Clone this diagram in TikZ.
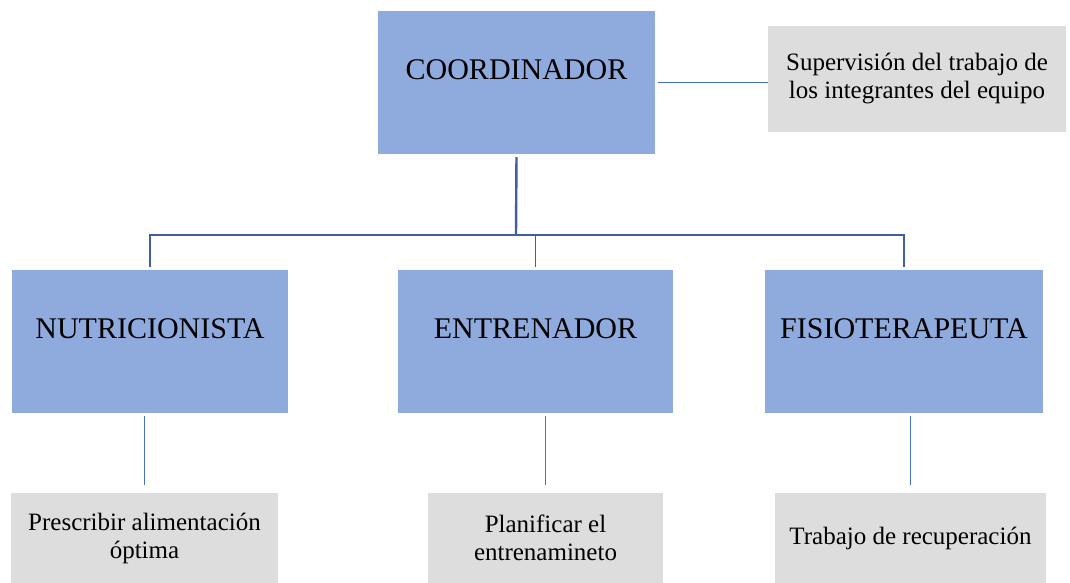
\documentclass[tikz,border=0pt]{standalone}
\usepackage{fontspec}
\setmainfont{Liberation Serif}
\definecolor{roleblue}{RGB}{143,170,220}
\definecolor{taskgray}{RGB}{221,221,221}
\definecolor{linkblue}{RGB}{68,114,196}
\definecolor{busblue}{RGB}{63,95,160}
\tikzset{
    rolebox/.style={rectangle, fill=roleblue, inner sep=0pt, font=\fontsize{30}{30}\selectfont,
        text height=20pt, text depth=26pt, minimum height=143pt},
    taskbox/.style={rectangle, fill=taskgray, inner sep=0pt, align=center,
        font=\fontsize{25}{28}\selectfont},
    link/.style={draw=linkblue, line width=1.2pt},
    bus/.style={draw=busblue, line width=1.8pt}
}
\begin{document}
\begin{tikzpicture}[x=1pt,y=-1pt]
        \useasboundingbox (0,0) rectangle (1070,583);
        \node[rolebox, minimum width=277pt] (coord) at (516.5,82.5) {COORDINADOR};
        \node[taskbox, minimum width=298pt, minimum height=106pt] (sup) at (917,79)
            {Supervisión del trabajo de\\los integrantes del equipo};
        \node[rolebox, minimum width=276pt] (nutri) at (150,341.5) {NUTRICIONISTA};
        \node[rolebox, minimum width=275pt] (entren) at (535.5,341.5) {ENTRENADOR};
        \node[rolebox, minimum width=278pt] (fisio) at (904,341.5) {FISIOTERAPEUTA};
        \node[taskbox, minimum width=267pt, minimum height=90pt] (presc) at (144.5,538)
            {Prescribir alimentación\\óptima};
        \node[taskbox, minimum width=235pt, minimum height=90pt] (plan) at (545.5,538)
            {Planificar el\\entrenamineto};
        \node[taskbox, minimum width=271pt, minimum height=90pt] (trab) at (910.5,538)
            {Trabajo de recuperación};
        \coordinate (junction) at (516,235);
        % coordinator to the team
        \draw[link, shorten <=3pt] (coord.east) -- (coord.east -| sup.west);
        \draw[bus, line width=2.4pt, shorten <=3pt] (coord.south) -- (junction);
        \draw[bus, shorten <=3pt, shorten >=3pt] (nutri.north) |- (junction) -| (fisio.north);
        \draw[bus, shorten <=3pt] (entren.north) -- (entren.north |- junction);
        % roles to their tasks
        \draw[link, shorten <=8pt, shorten >=3pt] (presc.north) -- (presc.north |- nutri.south);
        \draw[link, shorten <=8pt, shorten >=3pt] (plan.north) -- (plan.north |- entren.south);
        \draw[link, shorten <=8pt, shorten >=3pt] (trab.north) -- (trab.north |- fisio.south);
    \end{tikzpicture}
\end{document}
